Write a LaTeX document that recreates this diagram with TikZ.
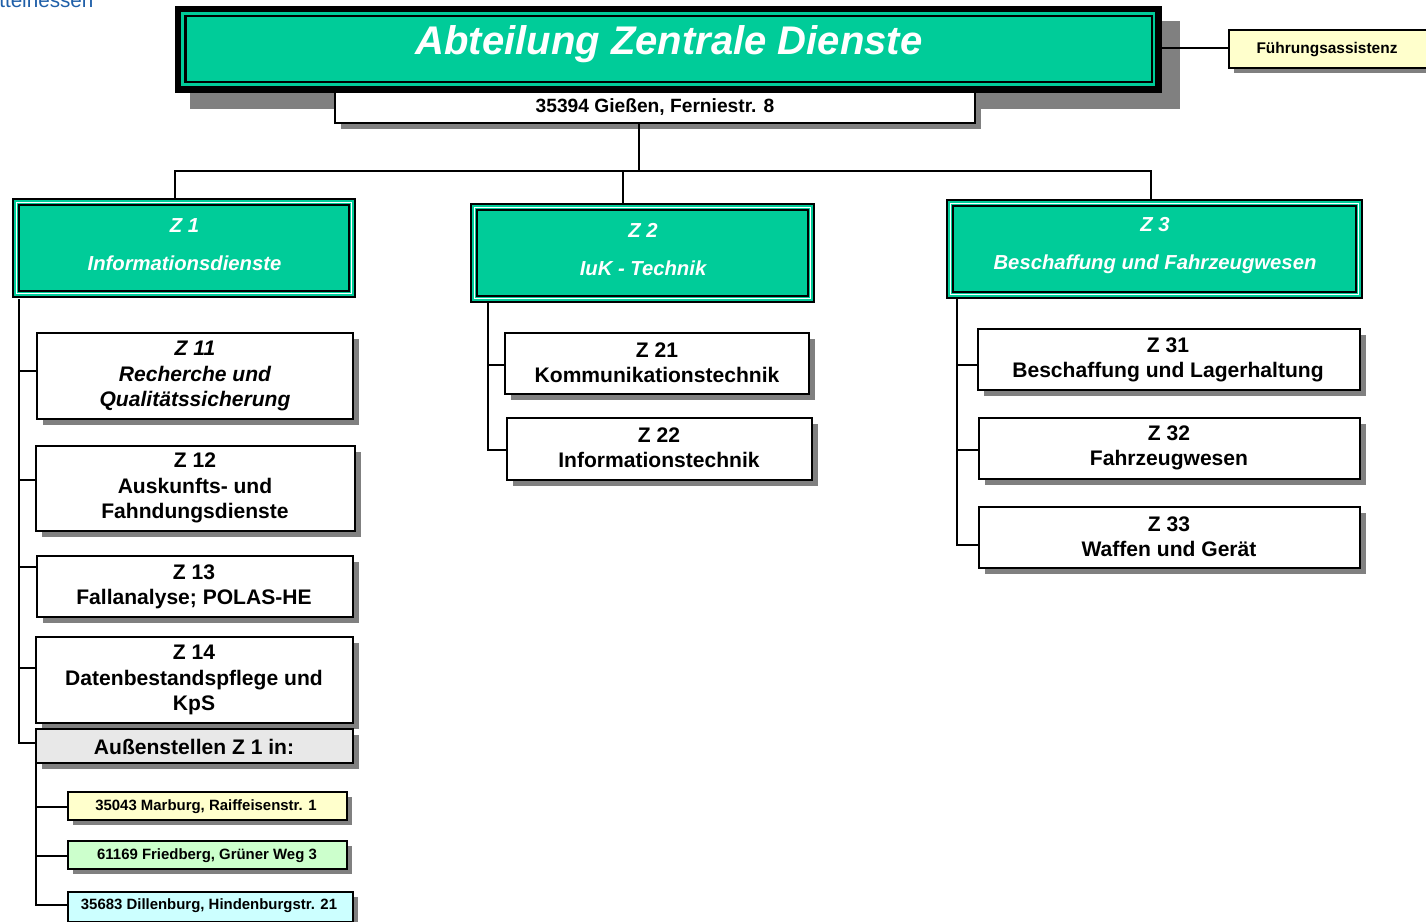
\documentclass[tikz,border=0pt]{standalone}
\usepackage{fontspec}
\setmainfont{Liberation Sans}
\usetikzlibrary{calc}
\definecolor{teal1}{HTML}{00CC99}
\definecolor{shade1}{HTML}{808080}
\definecolor{paleY}{HTML}{FFFFCC}
\definecolor{paleG}{HTML}{CCFFCC}
\definecolor{paleC}{HTML}{CCFFFF}
\definecolor{paleK}{HTML}{E8E8E8}
\definecolor{logoblue}{HTML}{1F5FA8}
\tikzset{
  x=0.75pt,y=-0.75pt,
  shp/.style={inner sep=0pt,outer sep=0pt,minimum width=\bw*0.75pt,minimum height=\bh*0.75pt,anchor=center},
  plain/.style={draw=black,line width=1.6pt,fill=white},
  tealbox/.style={draw=black,line width=1.6pt,fill=teal1},
  wire/.style={draw=black,line width=1.5pt},
  lbl/.style={align=center,font=\bfseries,inner sep=0pt},
  med/.style={lbl,font=\fontsize{15.8}{18.9}\selectfont\bfseries},
  medi/.style={lbl,font=\fontsize{15.8}{18.9}\selectfont\bfseries\itshape},
  sma/.style={lbl,font=\fontsize{12}{14}\selectfont\bfseries},
  smb/.style={lbl,font=\fontsize{11.2}{14}\selectfont\bfseries},
  head/.style={lbl,text=white,font=\fontsize{15.2}{28.5}\selectfont\bfseries\itshape},
}
% name, x0,y0,x1,y1, style, shadow offset
\newcommand{\shbox}[7]{%
  \pgfmathsetmacro{\bw}{#4-#2}\pgfmathsetmacro{\bh}{#5-#3}%
  \fill[shade1] (#2+#7,#3+#7) rectangle (#4+#7,#5+#7);
  \node[shp,#6] (#1) at ({(#2+#4)/2},{(#3+#5)/2}) {};
}
% name, x0,y0,x1,y1 : section head with double frame
\newcommand{\headbox}[5]{%
  \pgfmathsetmacro{\bw}{#4-#2}\pgfmathsetmacro{\bh}{#5-#3}%
  \node[shp,draw=black,line width=2pt,fill=teal1] (#1) at ({(#2+#4)/2},{(#3+#5)/2}) {};
  \draw[white,line width=0.6pt] (#2+3.5,#3+3.5) rectangle (#4-3.5,#5-3.5);
  \draw[black,line width=2.1pt] (#2+6,#3+6) rectangle (#4-6,#5-6);
}
\begin{document}
\begin{tikzpicture}
\useasboundingbox (0,0) rectangle (1426,921);
% logo remnant
\node[anchor=base west,inner sep=0pt,text=logoblue,font=\fontsize{15.5}{18}\selectfont] (logo) at (-1,7.5) {ttelhessen};
% title
\fill[shade1] (190,21) rectangle (1180,109);
\pgfmathsetmacro{\bw}{987}\pgfmathsetmacro{\bh}{87}
\node[shp,fill=black] (title) at (668.5,49) {};
\fill[teal1] (181,12) rectangle (1155,86);
\fill[black] (184,15) rectangle (1153,83);
\fill[teal1] (186.5,17) rectangle (1150.5,81);
\node[lbl,text=white,font=\fontsize{30}{36}\selectfont\bfseries\itshape] (titlet) at (669,44) {Abteilung Zentrale Dienste};
% address
\shbox{addr}{335}{92}{975}{123}{plain}{6}
\node[sma,font=\fontsize{14.4}{17}\selectfont\bfseries] (addrt) at (655,107) {35394 Gießen, Ferniestr. 8};
% assistant
\shbox{fa}{1229}{30}{1428}{68}{plain,fill=paleY}{5}
\node[sma,font=\fontsize{11.6}{14}\selectfont\bfseries] (fat) at (1327,50) {Führungsassistenz};
% heads
\headbox{z1}{13}{199}{355}{297}
\node[head] (z1t) at (184.5,245) {Z 1\\Informationsdienste};
\headbox{z2}{471}{204}{814}{302}
\node[head] (z2t) at (643,250) {Z 2\\IuK - Technik};
\headbox{z3}{947}{200}{1362}{298}
\node[head] (z3t) at (1155,246) {Z 3\\Beschaffung und Fahrzeugwesen};
% Z1 column
\shbox{z11}{37}{333}{353}{419}{plain}{6}
\node[medi] (z11t) at (195,376) {Z 11\\Recherche und\\Qualitätssicherung};
\shbox{z12}{36}{446}{355}{531}{plain}{6}
\node[med] (z12t) at (195,488) {Z 12\\Auskunfts- und\\Fahndungsdienste};
\shbox{z13}{37}{556}{353}{617}{plain}{6}
\node[med] (z13t) at (194,587) {Z 13\\Fallanalyse; POLAS-HE};
\shbox{z14}{36}{637}{353}{723}{plain}{6}
\node[med] (z14t) at (194,680) {Z 14\\Datenbestandspflege und\\KpS};
\shbox{aus}{36}{729}{353}{763}{plain,fill=paleK}{6}
\node[med,font=\fontsize{15.8}{18.9}\selectfont\bfseries] (aust) at (194,747) {Außenstellen Z 1 in:};
\shbox{mar}{68}{792}{347}{820}{plain,fill=paleY}{5}
\node[smb] (mart) at (206,807) {35043 Marburg, Raiffeisenstr. 1};
\shbox{fri}{68}{841}{347}{869}{plain,fill=paleG}{5}
\node[smb] (frit) at (207,856) {61169 Friedberg, Grüner Weg 3};
\shbox{dil}{68}{892}{353}{922}{plain,fill=paleC}{5}
\node[smb] (dilt) at (209,906) {35683 Dillenburg, Hindenburgstr. 21};
% Z2 column
\shbox{z21}{505}{333}{809}{394}{plain}{6}
\node[med] (z21t) at (657,363) {Z 21\\Kommunikationstechnik};
\shbox{z22}{507}{418}{812}{480}{plain}{6}
\node[med] (z22t) at (659,448) {Z 22\\Informationstechnik};
% Z3 column
\shbox{z31}{978}{329}{1360}{390}{plain}{6}
\node[med] (z31t) at (1168,360) {Z 31\\Beschaffung und Lagerhaltung};
\shbox{z32}{979}{418}{1360}{479}{plain}{6}
\node[med] (z32t) at (1169,448) {Z 32\\Fahrzeugwesen};
\shbox{z33}{979}{507}{1360}{568}{plain}{6}
\node[med] (z33t) at (1169,537) {Z 33\\Waffen und Gerät};
% connector points
\coordinate (bus) at (639,171);
\coordinate (d1) at (175,171); \coordinate (d2) at (623,171); \coordinate (d3) at (1151,171);
\coordinate (tr1) at (19,299); \coordinate (tr2) at (488,302); \coordinate (tr3) at (957,298);
\coordinate (a11) at (37,371); \coordinate (a12) at (36,480); \coordinate (a13) at (37,567); \coordinate (a14) at (36,668); \coordinate (aa) at (36,743);
\coordinate (str) at (36,763);
\coordinate (am) at (68,807); \coordinate (af) at (68,856); \coordinate (ad) at (68,905);
\coordinate (a21) at (505,365); \coordinate (a22) at (507,450);
\coordinate (a31) at (978,365); \coordinate (a32) at (979,450); \coordinate (a33) at (979,545);
% connectors
\draw[wire] (addr.south -| bus) -- (bus);
\draw[wire] (d1 |- z1.north) -- (d1) -- (d3) -- (d3 |- z3.north);
\draw[wire] (d2) -- (d2 |- z2.north);
\draw[wire] (title.east |- fa.west) ++(0,-1) -- (fa.west |- 0,48);
\draw[wire] (tr1) |- (a11);
\draw[wire] (tr1) |- (a12);
\draw[wire] (tr1) |- (a13);
\draw[wire] (tr1) |- (a14);
\draw[wire] (tr1) |- (aa);
\draw[wire] (str) |- (am);
\draw[wire] (str) |- (af);
\draw[wire] (str) |- (ad);
\draw[wire] (tr2) |- (a21);
\draw[wire] (tr2) |- (a22);
\draw[wire] (tr3) |- (a31);
\draw[wire] (tr3) |- (a32);
\draw[wire] (tr3) |- (a33);
\end{tikzpicture}
\end{document}
